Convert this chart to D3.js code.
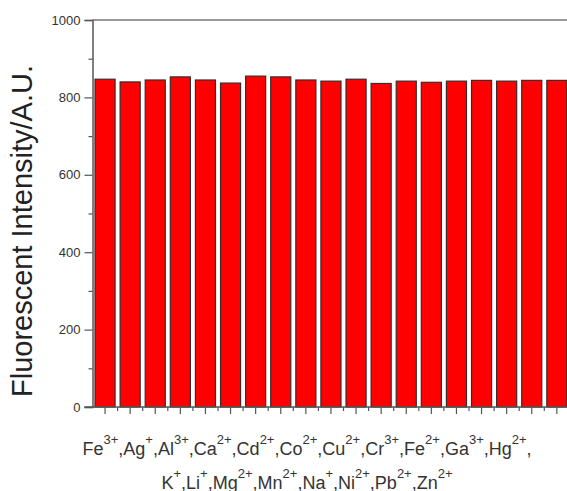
<!DOCTYPE html>
<html>
<head>
<meta charset="utf-8">
<script src="https://cdn.jsdelivr.net/npm/d3@7/dist/d3.min.js"></script>
<style>
  html, body { margin: 0; padding: 0; background: #fff; }
  svg { display: block; }
  text { font-family: Arial, "Liberation Sans", sans-serif; }
</style>
</head>
<body>
<svg id="chart" width="567" height="491"></svg>
<script>
// Metal ions tested, their charges and the measured fluorescence
const ions = ["Fe", "Ag", "Al", "Ca", "Cd", "Co", "Cu", "Cr", "Fe", "Ga", "Hg",
              "K", "Li", "Mg", "Mn", "Na", "Ni", "Pb", "Zn"];
const charges = ["3+", "+", "3+", "2+", "2+", "2+", "2+", "3+", "2+", "3+", "2+",
                 "+", "+", "2+", "2+", "+", "2+", "2+", "2+"];
const intensity = [847, 840, 845, 853, 845, 837, 855, 853, 845, 842, 847,
                   836, 842, 839, 842, 844, 842, 844, 844];
const yTicks = [0, 200, 400, 600, 800, 1000];
const yMinorTicks = [100, 300, 500, 700, 900];
const yTitle = "Fluorescent Intensity/A.U.";
// ions listed on each line of the category caption
const captionLines = [[0, 11], [11, 19]];

const keys = ions.map((d, i) => d + charges[i]);

const svg = d3.select("#chart");
const plotLeft = 92.5, plotTop = 20, plotBottom = 407;
const step = 25.1;
const plotRight = plotLeft + step * ions.length;

const x = d3.scaleBand()
  .domain(keys)
  .range([plotLeft, plotRight])
  .paddingInner(0.2)
  .paddingOuter(0.1);

const y = d3.scaleLinear().domain([0, 1000]).range([plotBottom, plotTop]);

// bars
svg.append("g")
  .selectAll("rect")
  .data(intensity)
  .join("rect")
  .attr("x", (d, i) => x(keys[i]))
  .attr("y", d => y(d))
  .attr("width", x.bandwidth())
  .attr("height", d => y(0) - y(d))
  .attr("fill", "#ff0000")
  .attr("stroke", "#3c2a2a")
  .attr("stroke-width", 1.2);

const axisColor = "#555";

// top frame line
svg.append("line")
  .attr("x1", plotLeft).attr("x2", 567)
  .attr("y1", plotTop).attr("y2", plotTop)
  .attr("stroke", "#777").attr("stroke-width", 1.5);

// left axis
const yAxis = d3.axisLeft(y).tickValues(yTicks).tickFormat(d3.format("d"))
  .tickSize(8).tickPadding(4);
const gy = svg.append("g").attr("transform", `translate(${plotLeft},0)`).call(yAxis);
gy.select(".domain").attr("stroke", axisColor).attr("stroke-width", 1.5);
gy.selectAll(".tick line").attr("stroke", axisColor).attr("stroke-width", 1.2);
gy.selectAll(".tick text")
  .attr("font-size", 13).attr("fill", "#333")
  .attr("font-family", "Arial, 'Liberation Sans', sans-serif");
const yMinor = d3.axisLeft(y).tickValues(yMinorTicks).tickSize(4).tickFormat("");
const gym = svg.append("g").attr("transform", `translate(${plotLeft},0)`).call(yMinor);
gym.select(".domain").remove();
gym.selectAll(".tick line").attr("stroke", axisColor).attr("stroke-width", 1.2);

// bottom axis
const xAxis = d3.axisBottom(x).tickSize(7).tickFormat("").tickSizeOuter(0);
const gx = svg.append("g").attr("transform", `translate(0,${plotBottom})`).call(xAxis);
gx.select(".domain").attr("stroke", axisColor).attr("stroke-width", 1.5)
  .attr("d", `M${plotLeft - 8},0H567`);
gx.selectAll(".tick line").attr("stroke", axisColor).attr("stroke-width", 1.2);
// short ticks between bars
const gaps = keys.slice(1).map(k => x(k) - x.step() * x.paddingInner() / 2);
svg.append("g")
  .selectAll("line")
  .data(gaps)
  .join("line")
  .attr("x1", d => d).attr("x2", d => d)
  .attr("y1", plotBottom).attr("y2", plotBottom + 4)
  .attr("stroke", axisColor).attr("stroke-width", 1.2);

// y-axis title
svg.append("text")
  .attr("transform", "translate(32,231) rotate(-90)")
  .attr("text-anchor", "middle")
  .attr("font-size", 29)
  .attr("fill", "#222")
  .text(yTitle);

// category caption with superscript charges
const baselines = [455, 488.5];
captionLines.forEach(([a, b], li) => {
  const t = svg.append("text")
    .attr("x", 307)
    .attr("y", baselines[li])
    .attr("text-anchor", "middle")
    .attr("font-size", 18)
    .attr("fill", "#333");
  for (let i = a; i < b; i++) {
    t.append("tspan").text(ions[i]);
    t.append("tspan").attr("dy", -11).attr("font-size", 13).text(charges[i]);
    const last = i === b - 1;
    t.append("tspan").attr("dy", 11).text(last && li === captionLines.length - 1 ? "" : ",");
  }
});
</script>
</body>
</html>
